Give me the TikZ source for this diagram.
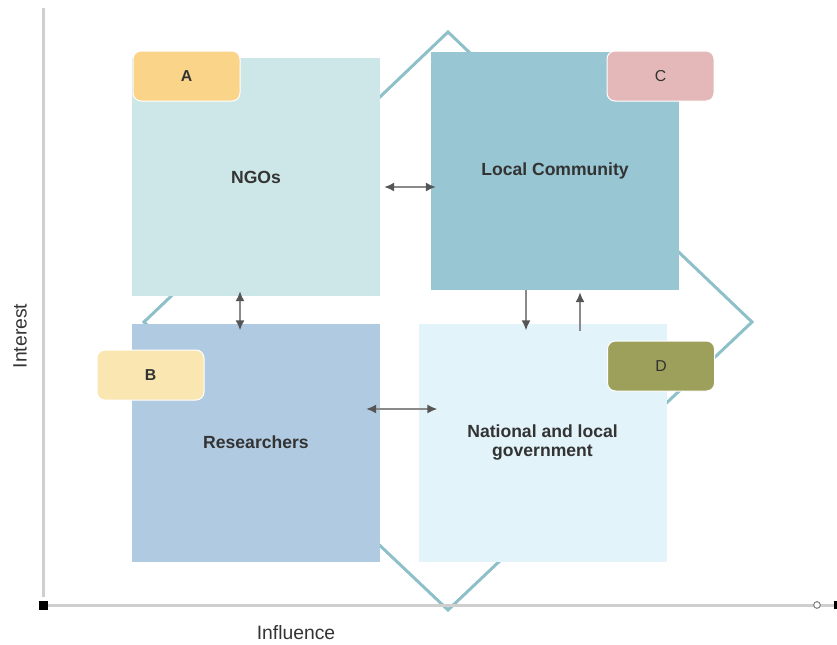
\documentclass[tikz,border=0pt]{standalone}
\usepackage{fontspec}
\setmainfont{Liberation Sans}
\usetikzlibrary{arrows.meta}

\definecolor{ngofill}{HTML}{CDE7E8}
\definecolor{lcfill}{HTML}{98C6D2}
\definecolor{resfill}{HTML}{B0CBE1}
\definecolor{natfill}{HTML}{E2F3FA}
\definecolor{tagA}{HTML}{F9D489}
\definecolor{tagB}{HTML}{FAE6B1}
\definecolor{tagC}{HTML}{E4B8B8}
\definecolor{tagD}{HTML}{9DA05B}
\definecolor{diamondline}{HTML}{8DC0C8}
\definecolor{axisgray}{HTML}{CFCFCF}
\definecolor{textgray}{HTML}{333333}
\definecolor{linkgray}{HTML}{8A8A8A}
\definecolor{headgray}{HTML}{555555}

\begin{document}
\begin{tikzpicture}[x=0.3mm,y=-0.3mm,
   >={Latex[length=3mm,width=2.7mm,color=headgray]},
   quad/.style={minimum width=74.4mm,minimum height=71.4mm,inner sep=0pt,
      text=textgray,align=center,font=\fontsize{15}{16}\selectfont\bfseries},
   tag/.style={rounded corners=2.4mm,minimum width=32.1mm,minimum height=15mm,
      inner sep=0pt,draw=white,line width=0.3mm,text=textgray,
      font=\fontsize{13.5}{15}\selectfont},
   link/.style={draw=linkgray,line width=0.45mm},
   axislabel/.style={text=textgray,font=\fontsize{16.5}{18}\selectfont}]
   \useasboundingbox (0,0) rectangle (837,644);

   % diamond behind the quadrants
   \draw[diamondline,line width=0.9mm,line join=miter]
      (448,32) -- (752,322) -- (448,610) -- (144,322) -- cycle;

   % axes
   \coordinate (o) at (43,605);
   \coordinate (ytop) at (43,8);
   \coordinate (xe) at (836,605);
   \draw[axisgray,line width=0.9mm] ([yshift=2.4mm]o) -- (ytop);
   \draw[axisgray,line width=0.9mm] (o) -- (xe);
   \node[fill=black,minimum size=2.7mm,inner sep=0pt] (origin) at (o) {};
   \node[circle,draw=gray,fill=white,line width=0.3mm,minimum size=2mm,inner sep=0pt] (xend) at (817,605) {};
   \node[fill=black,minimum width=1.2mm,minimum height=2.4mm,inner sep=0pt] (xcap) at (xe) {};
   \node[axislabel,rotate=90] (ylabel) at (20,336) {Interest};
   \node[axislabel] (xlabel) at (296,633) {Influence};

   % quadrants
   \node[quad,fill=ngofill] (ngo) at (256,177) {NGOs};
   \node[quad,fill=lcfill] (lc) at (555,171) {Local Community};
   \node[quad,fill=resfill] (res) at (256,442.5) {Researchers};
   \node[quad,fill=natfill] (nat) at (542.5,442.5) {National and local\\government};

   % tags
   \node[tag,fill=tagA,font=\fontsize{13.5}{15}\selectfont\bfseries] (A) at (186.5,76) {A};
   \node[tag,fill=tagB,font=\fontsize{13.5}{15}\selectfont\bfseries] (B) at (150.5,375) {B};
   \node[tag,fill=tagC] (C) at (660.5,76) {C};
   \node[tag,fill=tagD] (D) at (661,366) {D};

   % links
   \draw[link,<->] ([shift={(4,10)}]ngo.east) -- ([shift={(5,16)}]lc.west);
   \draw[link,<->] ([shift={(-16,-5)}]ngo.south) -- ([shift={(-16,7)}]res.north);
   \draw[link,->] ([shift={(-29,0)}]lc.south) -- ([shift={(-16.5,7)}]nat.north);
   \draw[link,->] ([shift={(37.5,8)}]nat.north) -- ([shift={(25,2)}]lc.south);
   \draw[link,<->] ([shift={(-14,-33.5)}]res.east) -- ([shift={(19,-33.5)}]nat.west);
\end{tikzpicture}
\end{document}
